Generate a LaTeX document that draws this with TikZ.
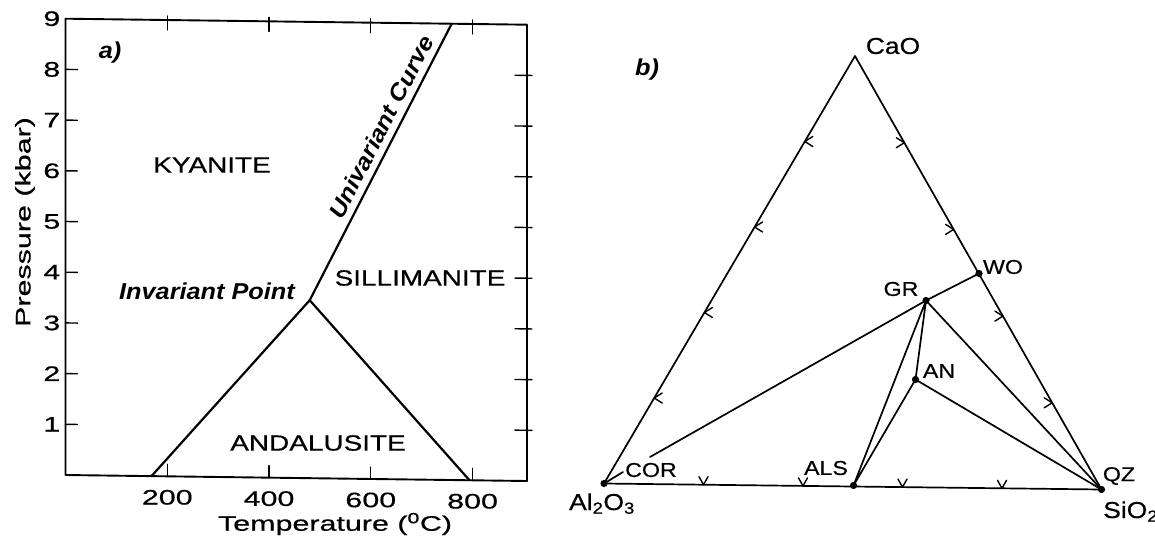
\documentclass[tikz,border=0pt]{standalone}
\usepackage{fontspec}
\setmainfont{Liberation Sans}
\newfontfamily\axf[FakeStretch=1.45,FakeBold=0.6]{Liberation Sans}
\newfontfamily\regf[FakeStretch=1.27,FakeBold=0.6]{Liberation Sans}
\newfontface\bif[FakeStretch=1.1]{Liberation Sans Bold Italic}
\newfontfamily\ptf[FakeStretch=1.16,FakeBold=0.5]{Liberation Sans}
\newfontfamily\vtxf[FakeStretch=1.15,FakeBold=0.6]{Liberation Sans}
\usetikzlibrary{calc}
\tikzset{
  axnum/.style={font=\axf\fontsize{21}{21}\selectfont, inner sep=0pt},
  region/.style={font=\regf\fontsize{22}{22}\selectfont, inner sep=0pt},
  bilab/.style={font=\bif\fontsize{23}{23}\selectfont, inner sep=0pt},
  ptlab/.style={font=\ptf\fontsize{20}{20}\selectfont, inner sep=0pt},
  vtx/.style={font=\vtxf\fontsize{23}{23}\selectfont, inner sep=0pt},
  frameline/.style={line width=1.9pt},
  phaseline/.style={line width=2.2pt},
  tieline/.style={line width=1.7pt},
  tickmark/.style={line width=1.4pt},
}
\begin{document}
\begin{tikzpicture}[x=1pt,y=-1pt,line cap=round,line join=round]
\useasboundingbox (0,0) rectangle (1155,538);
\fill[white] (0,0) rectangle (1155,538);

% ---------------- panel a ----------------
\begin{scope}[shift={(65.5,475)}, yslant=-0.013, x=0.5088pt, y=50.7pt]
  \draw[frameline] (0,0) -- (907,0) -- (907,9) -- (0,9) -- cycle;
  \foreach \p in {1,...,8} {
    \draw[tickmark] (0,\p) -- ++(12pt,0pt);
    \draw[tickmark] (907,\p) ++(-12pt,0pt) -- ++(17pt,0pt);
    \node[axnum, anchor=east, xshift=-5pt] (yl\p) at (0,\p) {\p};
  }
  \node[axnum, anchor=east, xshift=-5pt] (yl9) at (0,9) {9};
  \foreach \t in {200,400,600,800} {
    \draw[tickmark] (\t,9) ++(0pt,4pt) -- ++(0pt,-14pt);
    \draw[tickmark] (\t,0) -- ++(0pt,12pt);
    \node[axnum, yshift=-21pt] (xl\t) at (\t,0) {\t};
  }
  \coordinate (ip) at (480,3.51);
  \coordinate (ka) at (169,0);
  \coordinate (as) at (794,0);
  \coordinate (uc) at (759,9);
  \draw[phaseline] (ka) -- (ip) -- (as);
  \draw[phaseline] (ip) -- (uc);
\end{scope}

\node[bilab] (alab) at (110,53) {a)};
\node[region] (ky) at (212,165) {KYANITE};
\node[region] (sil) at (420,278) {SILLIMANITE};
\node[region] (and) at (318,443) {ANDALUSITE};
\node[bilab] (ipl) at (207,291) {Invariant Point};
\node[bilab, rotate=62.8] (ucl) at (381,127) {Univariant Curve};
\node[axnum, rotate=90] (ylab) at (25,222) {Pressure (kbar)};
\node[axnum] (xlab) at (335,524) {Temperature (\textsuperscript{0}C)};

% ---------------- panel b ----------------
\coordinate (cao) at (855,56);
\coordinate (al) at (604,483.5);
\coordinate (si) at (1101.5,489.5);
\coordinate (wo) at (979,273.5);
\coordinate (gr) at (926,300.5);
\coordinate (an) at (915.5,379.5);
\coordinate (als) at (853.5,485.5);
\coordinate (corend) at (650,457);
\coordinate (corlead) at (623,472);

\draw[tieline] (al) -- (cao) -- (si) -- cycle;
\draw[tieline] (corend) -- (gr) -- (wo);
\draw[tieline] (gr) -- (als) -- (an) -- (gr);
\draw[tieline] (gr) -- (si);
\draw[tieline] (an) -- (si);
\draw[tieline] (al) -- (corlead);

\foreach \f in {0.2,0.4,0.6,0.8} {
  \draw[tickmark] ($(cao)!\f!(al)$) ++(8,-5) -- ++(-8,5) -- ++(8,5);
  \draw[tickmark] ($(cao)!\f!(si)$) ++(-8,-5) -- ++(8,5) -- ++(-8,5);
  \draw[tickmark] ($(al)!\f!(si)$) ++(-4.5,-8) -- ++(4.5,8) -- ++(4.5,-8);
}

\foreach \q in {al,si,wo,gr,an,als} { \fill (\q) circle (3.6pt); }

\node[bilab] (blab) at (647,70) {b)};
\node[vtx] (caol) at (893,46) {CaO};
\node[vtx, anchor=base east] (all) at (635,510) {Al\textsubscript{2}O\textsubscript{3}};
\node[vtx, anchor=base west] (sil2) at (1103,518) {SiO\textsubscript{2}};
\node[ptlab] (wol) at (1003,267) {WO};
\node[ptlab] (grl) at (901,289) {GR};
\node[ptlab] (anl) at (939,371) {AN};
\node[ptlab] (qzl) at (1119,476) {QZ};
\node[ptlab] (corl) at (651,470) {COR};
\node[ptlab] (alsl) at (826,468) {ALS};
\end{tikzpicture}
\end{document}
